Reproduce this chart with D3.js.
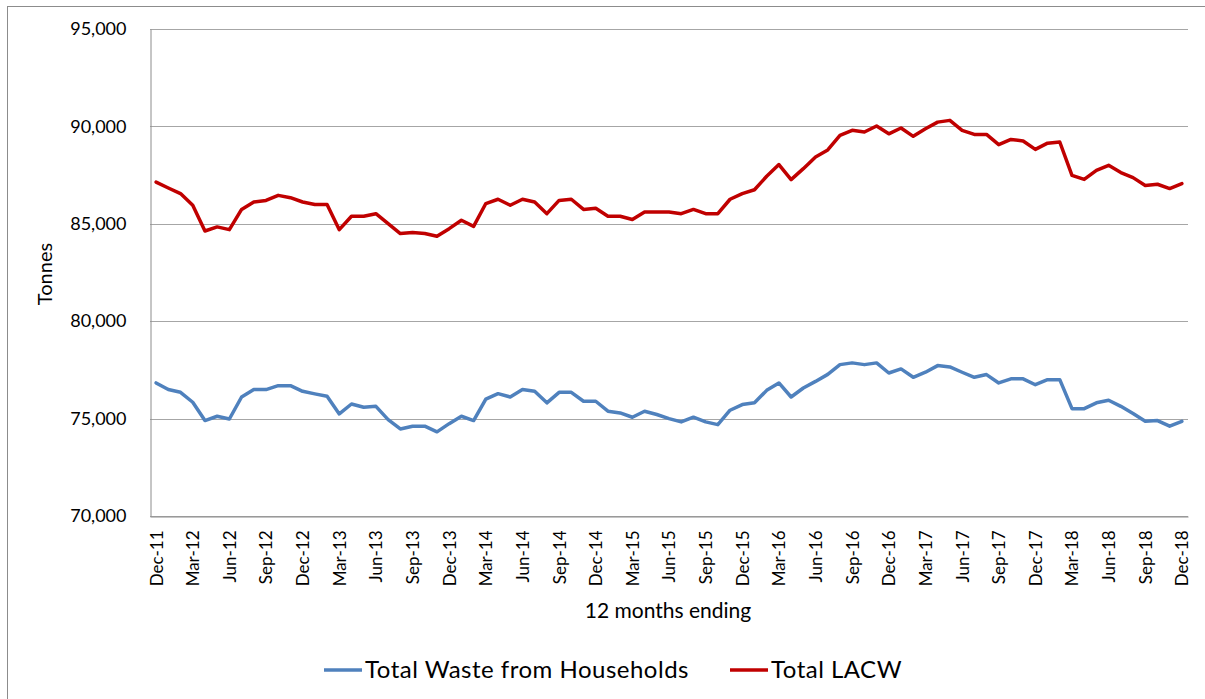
<!DOCTYPE html>
<html>
<head>
<meta charset="utf-8">
<title>Waste from households and LACW</title>
<script src="https://cdn.jsdelivr.net/npm/d3@7"></script>
<style>
  body { margin: 0; background: #fff; }
  svg text { font-family: Lato, "Open Sans", sans-serif; fill: #000; }
</style>
</head>
<body>
<div id="chart"></div>
<script>
// 12 months ending, Dec-11 .. Dec-18
var months = [
  "Dec-11","Jan-12","Feb-12","Mar-12","Apr-12","May-12","Jun-12","Jul-12","Aug-12","Sep-12","Oct-12","Nov-12",
  "Dec-12","Jan-13","Feb-13","Mar-13","Apr-13","May-13","Jun-13","Jul-13","Aug-13","Sep-13","Oct-13","Nov-13",
  "Dec-13","Jan-14","Feb-14","Mar-14","Apr-14","May-14","Jun-14","Jul-14","Aug-14","Sep-14","Oct-14","Nov-14",
  "Dec-14","Jan-15","Feb-15","Mar-15","Apr-15","May-15","Jun-15","Jul-15","Aug-15","Sep-15","Oct-15","Nov-15",
  "Dec-15","Jan-16","Feb-16","Mar-16","Apr-16","May-16","Jun-16","Jul-16","Aug-16","Sep-16","Oct-16","Nov-16",
  "Dec-16","Jan-17","Feb-17","Mar-17","Apr-17","May-17","Jun-17","Jul-17","Aug-17","Sep-17","Oct-17","Nov-17",
  "Dec-17","Jan-18","Feb-18","Mar-18","Apr-18","May-18","Jun-18","Jul-18","Aug-18","Sep-18","Oct-18","Nov-18",
  "Dec-18"
];

var households = [
  76830, 76490, 76350, 75840, 74900, 75120, 74980, 76110, 76490, 76490, 76690, 76690,
  76400, 76270, 76150, 75240, 75750, 75580, 75630, 74950, 74470, 74610, 74610, 74320,
  74740, 75120, 74900, 76000, 76280, 76110, 76490, 76400, 75810, 76350, 76350, 75890,
  75890, 75380, 75290, 75070, 75380, 75210, 75000, 74830, 75070, 74830, 74690, 75430,
  75720, 75810, 76450, 76830, 76110, 76570, 76910, 77270, 77770, 77860, 77770, 77860,
  77340, 77550, 77120, 77380, 77720, 77650, 77380, 77120, 77260, 76830, 77040, 77040,
  76740, 77000, 77000, 75510, 75510, 75810, 75940, 75630, 75260, 74860, 74900, 74610,
  74860
];

var lacw = [
  87140, 86840, 86550, 85950, 84630, 84840, 84700, 85740, 86120, 86200, 86460, 86340,
  86120, 85990, 85990, 84700, 85390, 85390, 85520, 85010, 84500, 84550, 84500, 84360,
  84750, 85180, 84870, 86040, 86260, 85950, 86260, 86120, 85520, 86200, 86260, 85740,
  85800, 85390, 85390, 85220, 85610, 85610, 85610, 85520, 85740, 85520, 85520, 86260,
  86550, 86750, 87440, 88040, 87270, 87830, 88430, 88790, 89540, 89800, 89710, 90020,
  89620, 89920, 89490, 89880, 90220, 90310, 89800, 89590, 89590, 89060, 89330, 89250,
  88820, 89140, 89200, 87490, 87280, 87740, 88000, 87630, 87370, 86970, 87030, 86810,
  87060
];

var yTicks = [70000, 75000, 80000, 85000, 90000, 95000];
var seriesNames = ["Total Waste from Households", "Total LACW"];
var seriesColors = ["#4f81bd", "#c00000"];

var W = 1205, H = 699;
var margin = {left: 150, right: 1188, top: 29, bottom: 516};

var svg = d3.select("#chart").append("svg")
  .attr("width", W)
  .attr("height", H);

// chart frame (only top/left edges visible in the picture)
svg.append("rect")
  .attr("x", 7.5).attr("y", 6.5)
  .attr("width", W + 20).attr("height", H + 20)
  .attr("fill", "none")
  .attr("stroke", "#8c8c8c");

var x = d3.scalePoint()
  .domain(months)
  .range([margin.left, margin.right])
  .padding(0.5);

var y = d3.scaleLinear()
  .domain([70000, 95000])
  .range([margin.bottom, margin.top]);

// gridlines
svg.append("g")
  .selectAll("line")
  .data(yTicks)
  .enter()
  .append("line")
  .attr("x1", margin.left).attr("x2", margin.right)
  .attr("y1", function(d) { return Math.round(y(d)) + 0.5; })
  .attr("y2", function(d) { return Math.round(y(d)) + 0.5; })
  .attr("stroke", "#a6a6a6")
  .attr("stroke-width", 1);

// y axis
var yAxis = d3.axisLeft(y)
  .tickValues(yTicks)
  .tickSize(0)
  .tickPadding(24)
  .tickFormat(d3.format(","));

var gy = svg.append("g")
  .attr("transform", "translate(" + (margin.left + 0.5) + ",0)")
  .call(yAxis);
gy.select(".domain").attr("stroke", "#8c8c8c");
gy.selectAll("text")
  .style("font-size", "18px")
  .style("font-family", "Lato, sans-serif");

// x axis
var xAxis = d3.axisBottom(x)
  .tickValues(months.filter(function(m, i) { return i % 3 == 0; }))
  .tickSize(0)
  .tickPadding(0);

var gx = svg.append("g")
  .attr("transform", "translate(0," + (margin.bottom + 0.5) + ")")
  .call(xAxis);
gx.select(".domain").attr("stroke", "#8c8c8c");
gx.selectAll("text")
  .style("font-size", "17px")
  .style("font-family", "Lato, sans-serif")
  .attr("text-anchor", "end")
  .attr("transform", "rotate(-90)")
  .attr("x", -14)
  .attr("y", 0)
  .attr("dy", "0.35em");

// axis titles
svg.append("text")
  .text("Tonnes")
  .attr("text-anchor", "middle")
  .attr("transform", "translate(52,274) rotate(-90)")
  .style("font-size", "20px");

svg.append("text")
  .text("12 months ending")
  .attr("text-anchor", "middle")
  .attr("x", 668)
  .attr("y", 618)
  .style("font-size", "21px");

// lines
var line = d3.line()
  .x(function(d, i) { return x(months[i]); })
  .y(function(d) { return y(d); });

[households, lacw].forEach(function(s, k) {
  svg.append("path")
    .datum(s)
    .attr("d", line)
    .attr("fill", "none")
    .attr("stroke", seriesColors[k])
    .attr("stroke-width", 3.5)
    .attr("stroke-linejoin", "round")
    .attr("stroke-linecap", "round");
});

// legend
var legendX = [324, 730];
var leg = svg.append("g");
seriesNames.forEach(function(name, k) {
  leg.append("line")
    .attr("x1", legendX[k]).attr("x2", legendX[k] + 38)
    .attr("y1", 670).attr("y2", 670)
    .attr("stroke", seriesColors[k])
    .attr("stroke-width", 3.5);
  leg.append("text")
    .text(name)
    .attr("x", legendX[k] + 41)
    .attr("y", 678)
    .style("font-size", "24px")
    .style("letter-spacing", "0.5px");
});
</script>
</body>
</html>
